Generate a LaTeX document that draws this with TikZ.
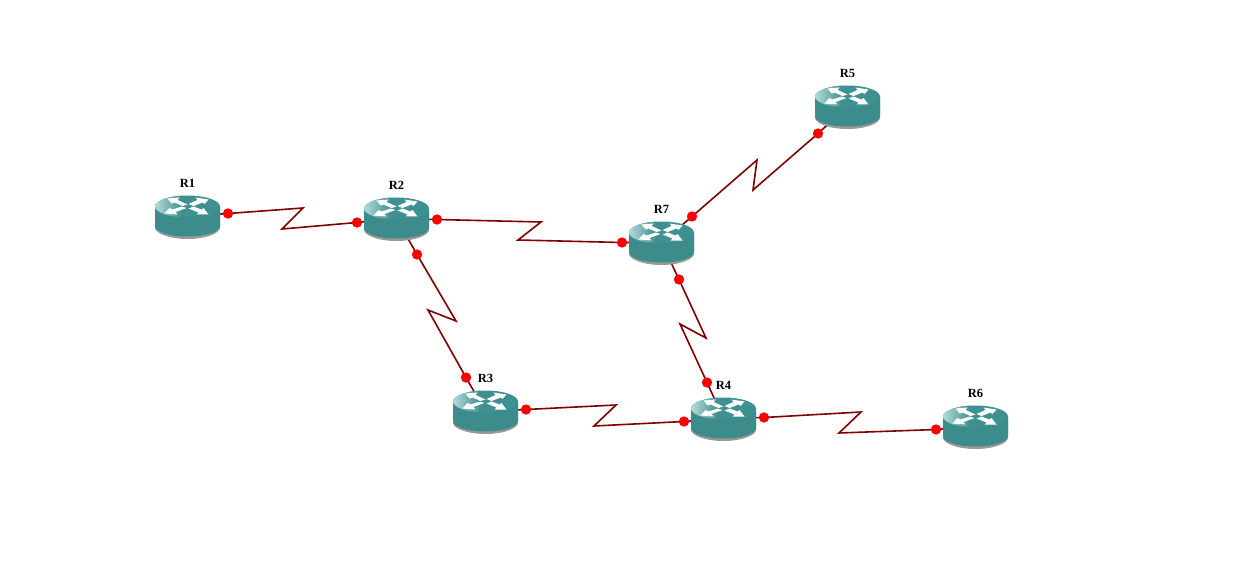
\documentclass[tikz,border=0pt]{standalone}
\usepackage{fontspec}
\setmainfont{Liberation Serif}
\definecolor{teal1}{HTML}{3C8C8C}
\definecolor{teal2}{HTML}{3F9090}
\definecolor{teal3}{HTML}{B4DADA}
\definecolor{linkred}{HTML}{7F0000}
\tikzset{
  x=1pt,y=-1pt,
  hub/.style={inner sep=0pt,minimum size=0pt},
  port/.style={circle,fill=red,draw=none,inner sep=0pt,minimum size=10pt},
  link/.style={draw=linkred,line width=1.6pt,line join=miter},
  rlabel/.style={font=\bfseries\fontsize{12.5}{12.5}\selectfont,text=black,inner sep=0pt},
  arrowglyph/.style={fill=white,draw=none},
  router/.pic={
    \fill[gray!80] (-32.5,-8) -- (-32.5,11) .. controls (-32.5,17) and (-18,22.5) .. (0,22.5) .. controls (18,22.5) and (32.5,17) .. (32.5,11) -- (32.5,-8) -- cycle;
    \fill[teal1] (-32.5,-10) -- (-32.5,9.5) .. controls (-32.5,15.5) and (-18,20) .. (0,20) .. controls (18,20) and (32.5,15.5) .. (32.5,9.5) -- (32.5,-10) -- cycle;
    \fill[teal2] (0,-10) ellipse[x radius=32.5,y radius=11];
    \begin{scope}
      \clip (0,-10) ellipse[x radius=32.5,y radius=11];
      \shade[left color=teal3,right color=teal2] (-32.5,-21) rectangle (-6,1);
    \end{scope}
    \fill[arrowglyph] (-20,-18) -- (-8,-19) -- (-10,-16.5) -- (0,-12) -- (-5,-10.5) -- (-13,-14) -- (-16,-13) -- cycle;
    \fill[arrowglyph] (21,-17) -- (8,-19) -- (10,-16.5) -- (1,-12.5) -- (6,-10.5) -- (15,-14) -- (17,-12.5) -- cycle;
    \fill[arrowglyph] (-23,-3) -- (-10,-2) -- (-12,-4.5) -- (-1,-8.5) -- (-6,-10) -- (-15,-7) -- (-18,-8.5) -- cycle;
    \fill[arrowglyph] (1,-8) -- (6,-10) -- (14,-7) -- (16,-8.5) -- (21,-2) -- (9,-2) -- (11,-4) -- cycle;
  }
}
\begin{document}
\begin{tikzpicture}
\useasboundingbox (0,0) rectangle (1247,572);
\node[hub] (R1) at (187.5,216.5) {};
\node[hub] (R2) at (396.5,218.5) {};
\node[hub] (R3) at (485.5,411.5) {};
\node[hub] (R4) at (723.5,418.5) {};
\node[hub] (R5) at (847.5,106.5) {};
\node[hub] (R6) at (975.5,426.5) {};
\node[hub] (R7) at (661.5,242.5) {};
\node[port] (p1a) at (228,213.5) {};
\node[port] (p1b) at (357,222.5) {};
\node[port] (p2a) at (437,219.5) {};
\node[port] (p2b) at (622,242.5) {};
\node[port] (p3a) at (417,254.5) {};
\node[port] (p3b) at (466,377.5) {};
\node[port] (p4a) at (526,409.5) {};
\node[port] (p4b) at (684,421.5) {};
\node[port] (p5a) at (764,417.5) {};
\node[port] (p5b) at (936,429.5) {};
\node[port] (p6a) at (679,279.5) {};
\node[port] (p6b) at (707,382.5) {};
\node[port] (p7a) at (692,216.5) {};
\node[port] (p7b) at (818,133.5) {};
\path[link] (R1.center) -- (p1a.center) -- (303,208) -- (282,229) -- (p1b.center) -- (R2.center);
\path[link] (R2.center) -- (p2a.center) -- (541,222) -- (518,240) -- (p2b.center) -- (R7.center);
\path[link] (R2.center) -- (p3a.center) -- (456,321) -- (428,310) -- (p3b.center) -- (R3.center);
\path[link] (R3.center) -- (p4a.center) -- (616,405) -- (594,426) -- (p4b.center) -- (R4.center);
\path[link] (R4.center) -- (p5a.center) -- (861,412) -- (839,433) -- (p5b.center) -- (R6.center);
\path[link] (R7.center) -- (p6a.center) -- (706,338) -- (680,324) -- (p6b.center) -- (R4.center);
\path[link] (R7.center) -- (p7a.center) -- (757,160) -- (753,190) -- (p7b.center) -- (R5.center);
\foreach \p in {p1a,p1b,p2a,p2b,p3a,p3b,p4a,p4b,p5a,p5b,p6a,p6b,p7a,p7b}{\fill[red] (\p) circle[radius=5];}
\foreach \r in {R1,R2,R3,R4,R5,R6,R7}{\pic at (\r) {router};}
\node[rlabel] (l1) at (187.5,183.5) {R1};
\node[rlabel] (l2) at (396.5,185.5) {R2};
\node[rlabel] (l3) at (485.5,378.5) {R3};
\node[rlabel] (l4) at (723.5,385.5) {R4};
\node[rlabel] (l5) at (847.5,73.5) {R5};
\node[rlabel] (l6) at (975.5,393.5) {R6};
\node[rlabel] (l7) at (661.5,209.5) {R7};
\end{tikzpicture}
\end{document}
